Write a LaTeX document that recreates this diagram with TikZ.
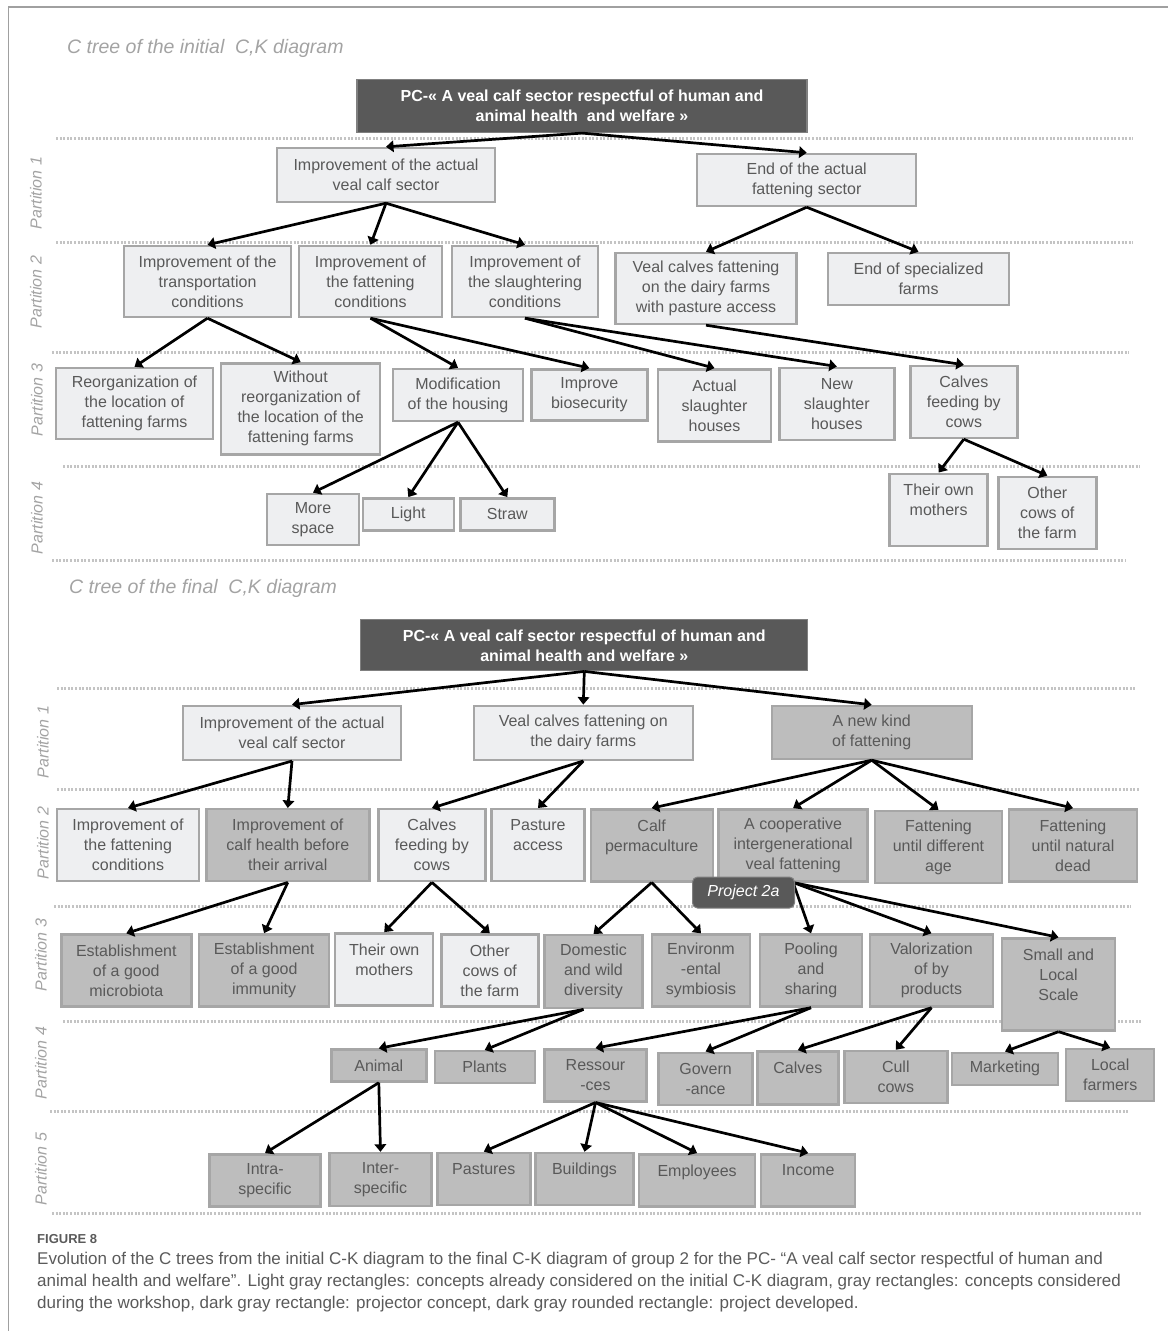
\documentclass[tikz,border=0pt]{standalone}
\usepackage{fontspec}
\setmainfont{Liberation Sans}
\newfontfamily\capfont{Liberation Sans}
\usetikzlibrary{arrows.meta}
\definecolor{lightfill}{HTML}{EEEFF1}
\definecolor{grayfill}{HTML}{BDBDBD}
\definecolor{bordc}{HTML}{A6A6A6}
\definecolor{darkfill}{HTML}{595959}
\definecolor{pcborder}{HTML}{808080}
\definecolor{txtc}{HTML}{595959}
\definecolor{labc}{HTML}{A3A3A3}
\definecolor{dotc}{HTML}{C4C4C4}
\definecolor{framec}{HTML}{A0A0A0}
\definecolor{capc}{HTML}{5A5A5A}
\tikzset{
 box/.style={draw=bordc, line width=2.4pt, inner sep=0pt, align=center, text=txtc, font=\fontsize{16}{20}\selectfont},
 lbox/.style={box, fill=lightfill},
 gbox/.style={box, fill=grayfill},
 pcbox/.style={draw=pcborder, line width=1.2pt, fill=darkfill, inner sep=0pt, align=center, text=white, font=\bfseries\fontsize{16}{20}\selectfont},
 projbox/.style={draw=pcborder, line width=1pt, fill=darkfill, inner sep=0pt, rounded corners=5pt, text=white, font=\itshape\fontsize{16}{20}\selectfont},
 arr/.style={-{Triangle[length=7.5pt,width=11.5pt]}, line width=2.7pt, black},
 part/.style={font=\itshape\fontsize{16}{20}\selectfont, text=labc, rotate=90},
 sep/.style={draw=dotc, line width=3pt, dash pattern=on 2pt off 1.6pt},
 ttl/.style={font=\itshape\fontsize{19.5}{23}\selectfont, text=labc, anchor=west, inner sep=0pt},
 capfig/.style={font=\bfseries\fontsize{13}{15}\selectfont, text=capc, anchor=base west, inner sep=0pt},
 capline/.style={font=\capfont\fontsize{17}{20}\selectfont, text=capc, anchor=base west, inner sep=0pt}
}
\begin{document}
\begin{tikzpicture}[x=1pt,y=-1pt]
\useasboundingbox (0,0) rectangle (1168,1331);
% frame
\draw[framec, line width=1.5pt] (8.5,1331) -- (8.5,7) -- (1168,7);
% separators, top
\draw[sep] (56,138) -- (1133,138);
\draw[sep] (56,242) -- (1133,242);
\draw[sep] (52,352.7) -- (1129,352.7);
\draw[sep] (63,466.7) -- (1140,466.7);
\draw[sep] (52,560) -- (1126,560);
% separators, bottom
\draw[sep] (57,688.3) -- (1135,688.3);
\draw[sep] (57,789.3) -- (1139,789.3);
\draw[sep] (54,906.7) -- (1131,906.7);
\draw[sep] (63,1021.7) -- (1142,1021.7);
\draw[sep] (50,1111.7) -- (1129,1111.7);
\draw[sep] (52,1213.3) -- (1141,1213.3);
% titles and partition labels
\node[ttl] (t1) at (67,48) {C tree of the initial\ \ C,K diagram};
\node[ttl] (t2) at (69,588) {C tree of the final\ \ C,K diagram};
\node[part] (pa1) at (36,193) {Partition 1};
\node[part] (pa2) at (36,292) {Partition 2};
\node[part] (pa3) at (37,400) {Partition 3};
\node[part] (pa4) at (37,518) {Partition 4};
\node[part] (pb1) at (43,742) {Partition 1};
\node[part] (pb2) at (43,843) {Partition 2};
\node[part] (pb3) at (41,955) {Partition 3};
\node[part] (pb4) at (41,1063) {Partition 4};
\node[part] (pb5) at (41,1169) {Partition 5};
% ---------- initial tree ----------
\node[pcbox, minimum width=450, minimum height=53] (pcA) at (582,106) {PC-« A veal calf sector respectful of human and\\animal health\ \ and welfare »};
\node[lbox, minimum width=218, minimum height=54] (impA) at (386,175) {Improvement of the actual\\veal calf sector};
\node[lbox, minimum width=219, minimum height=52] (endA) at (806.7,180) {End of the actual\\fattening sector};
\node[lbox, minimum width=167, minimum height=71] (trans) at (207.5,281.5) {Improvement of the\\transportation\\conditions};
\node[lbox, minimum width=143, minimum height=71] (fatt) at (370.5,281.5) {Improvement of\\the fattening\\conditions};
\node[lbox, minimum width=146, minimum height=71] (slau) at (525,281.5) {Improvement of\\the slaughtering\\conditions};
\node[lbox, minimum width=181, minimum height=71] (vealA) at (706,288.5) {Veal calves fattening\\on the dairy farms\\with pasture access};
\node[lbox, minimum width=181, minimum height=52] (endspec) at (918.5,279) {End of specialized\\farms};
\node[lbox, minimum width=157, minimum height=71] (reorg) at (134.5,403.5) {Reorganization of\\the location of\\fattening farms};
\node[lbox, minimum width=159, minimum height=91] (without) at (300.7,408.8) {Without\\reorganization of\\the location of the\\fattening farms};
\node[lbox, minimum width=130, minimum height=52] (modif) at (458,395) {Modification\\of the housing};
\node[lbox, minimum width=116, minimum height=51] (biosec) at (589.3,394.8) {Improve\\biosecurity};
\node[lbox, minimum width=113, minimum height=72] (actual) at (714.5,405.3) {Actual\\slaughter\\houses};
\node[lbox, minimum width=115, minimum height=72] (newsl) at (836.8,403.7) {New\\slaughter\\houses};
\node[lbox, minimum width=107, minimum height=72] (cfA) at (963.8,402) {Calves\\feeding by\\cows};
\node[lbox, minimum width=92, minimum height=51] (space) at (313,519.3) {More\\space};
\node[lbox, minimum width=91, minimum height=32] (light) at (408.3,514.3) {Light};
\node[lbox, minimum width=94, minimum height=32] (straw) at (507.3,514.3) {Straw};
\node[lbox, minimum width=98, minimum height=72] (omA) at (938.6,509.7) {Their own\\mothers\\\mbox{}};
\node[lbox, minimum width=98, minimum height=72] (ocA) at (1047.3,512.8) {Other\\cows of\\the farm};
% arrows, initial tree
\draw[arr] (pcA.south) -- (impA.north);
\draw[arr] (pcA.south) -- (endA.north);
\draw[arr] (impA.south) -- (trans.north);
\draw[arr] (impA.south) -- (fatt.north);
\draw[arr] (impA.south) -- (slau.north);
\draw[arr] (endA.south) -- (vealA.north);
\draw[arr] (endA.south) -- (endspec.north);
\draw[arr] (trans.south) -- (reorg.north);
\draw[arr] (trans.south) -- (without.north);
\draw[arr] (fatt.south) -- (modif.north);
\draw[arr] (fatt.south) -- (biosec.north);
\draw[arr] (slau.south) -- (actual.north);
\draw[arr] (slau.south) -- (newsl.north);
\draw[arr] (vealA.south) -- (cfA.north);
\draw[arr] (modif.south) -- (space.north);
\draw[arr] (modif.south) -- (light.north);
\draw[arr] (modif.south) -- (straw.north);
\draw[arr] (cfA.south) -- (omA.north);
\draw[arr] (cfA.south) -- (ocA.north);
% ---------- final tree ----------
\node[pcbox, minimum width=447, minimum height=51] (pcB) at (584.3,645.3) {PC-« A veal calf sector respectful of human and\\animal health and welfare »};
\node[lbox, minimum width=218, minimum height=54] (impB) at (292,732.8) {Improvement of the actual\\veal calf sector};
\node[lbox, minimum width=219, minimum height=54] (vealB) at (583.3,732.8) {Veal calves fattening on\\the dairy farms};
\node[gbox, minimum width=200, minimum height=53] (newkind) at (871.7,732.5) {A new kind\\of fattening};
\node[lbox, minimum width=142, minimum height=72] (fattcond) at (128,845.2) {Improvement of\\the fattening\\conditions};
\node[gbox, minimum width=163, minimum height=72] (health) at (287.8,845.2) {Improvement of\\calf health before\\their arrival};
\node[lbox, minimum width=107, minimum height=72] (cfB) at (431.9,845.2) {Calves\\feeding by\\cows};
\node[lbox, minimum width=93, minimum height=72] (pasture) at (538,845.2) {Pasture\\access\\\mbox{}};
\node[gbox, minimum width=122, minimum height=72] (perm) at (651.7,845.3) {Calf\\permaculture\\\mbox{}};
\node[gbox, minimum width=149, minimum height=72] (coop) at (793.1,845.3) {A cooperative\\intergenerational\\veal fattening};
\node[gbox, minimum width=127, minimum height=72] (diffage) at (938.5,847) {Fattening\\until different\\age};
\node[gbox, minimum width=128, minimum height=72] (natdead) at (1073,845.3) {Fattening\\until natural\\dead};
\node[gbox, minimum width=130, minimum height=72] (microb) at (126.3,970.5) {Establishment\\of a good\\microbiota};
\node[gbox, minimum width=130, minimum height=72] (immun) at (264.1,970.3) {Establishment\\of a good\\immunity};
\node[lbox, minimum width=98, minimum height=72] (omB) at (384.2,969.3) {Their own\\mothers\\\mbox{}};
\node[lbox, minimum width=97, minimum height=72] (ocB) at (489.8,970.3) {Other\\cows of\\the farm};
\node[gbox, minimum width=98, minimum height=73] (domestic) at (593.5,971.7) {Domestic\\and wild\\diversity};
\node[gbox, minimum width=98, minimum height=72] (environ) at (701,970.5) {Environm\\-ental\\symbiosis};
\node[gbox, minimum width=102, minimum height=72] (pooling) at (811,970.5) {Pooling\\and\\sharing};
\node[gbox, minimum width=123, minimum height=72] (valor) at (931.5,970.5) {Valorization\\of by\\products};
\node[gbox, minimum width=113, minimum height=92] (small) at (1058.5,984.5) {Small and\\Local\\Scale\\\mbox{}};
\node[gbox, minimum width=95, minimum height=32] (animal) at (378.8,1065.5) {Animal};
\node[gbox, minimum width=100, minimum height=32] (plants) at (484.7,1067.2) {Plants};
\node[gbox, minimum width=102, minimum height=52] (ressour) at (595.5,1075.3) {Ressour\\-ces};
\node[gbox, minimum width=94, minimum height=52] (govern) at (705.6,1078.7) {Govern\\-ance};
\node[gbox, minimum width=81, minimum height=53] (calves) at (797.8,1077.8) {Calves\\\mbox{}};
\node[gbox, minimum width=103, minimum height=52] (cull) at (895.8,1077) {Cull\\cows};
\node[gbox, minimum width=106, minimum height=32] (market) at (1005,1068.7) {Marketing};
\node[gbox, minimum width=88, minimum height=52] (localf) at (1110.2,1075) {Local\\farmers};
\node[gbox, minimum width=111, minimum height=52] (intra) at (265,1180.3) {Intra-\\specific};
\node[gbox, minimum width=102, minimum height=53] (inter) at (380.5,1179.5) {Inter-\\specific};
\node[gbox, minimum width=93, minimum height=52] (pastures) at (483.8,1178.8) {Pastures\\\mbox{}};
\node[gbox, minimum width=98, minimum height=52] (buildings) at (584.5,1179) {Buildings\\\mbox{}};
\node[gbox, minimum width=116, minimum height=52] (employees) at (697.1,1180.3) {Employees\\\mbox{}};
\node[gbox, minimum width=94, minimum height=52] (income) at (808.2,1180.3) {Income\\\mbox{}};
% arrows, final tree
\draw[arr] (pcB.south) -- (impB.north);
\draw[arr] (pcB.south) -- (vealB.north);
\draw[arr] (pcB.south) -- (newkind.north);
\draw[arr] (impB.south) -- (fattcond.north);
\draw[arr] (impB.south) -- (health.north);
\draw[arr] (vealB.south) -- (cfB.north);
\draw[arr] (vealB.south) -- (pasture.north);
\draw[arr] (newkind.south) -- (perm.north);
\draw[arr] (newkind.south) -- (coop.north);
\draw[arr] (newkind.south) -- (diffage.north);
\draw[arr] (newkind.south) -- (natdead.north);
\draw[arr] (health.south) -- (microb.north);
\draw[arr] (health.south) -- (immun.north);
\draw[arr] (cfB.south) -- (omB.north);
\draw[arr] (cfB.south) -- (ocB.north);
\draw[arr] (perm.south) -- (domestic.north);
\draw[arr] (perm.south) -- (environ.north);
\draw[arr] (coop.south) -- (pooling.north);
\draw[arr] (coop.south) -- (valor.north);
\draw[arr] (coop.south) -- (small.north);
\draw[arr] ([xshift=-10pt]domestic.south) -- (animal.north);
\draw[arr] ([xshift=-10pt]domestic.south) -- (plants.north);
\draw[arr] (pooling.south) -- (ressour.north);
\draw[arr] (pooling.south) -- (govern.north);
\draw[arr] (valor.south) -- (calves.north);
\draw[arr] (valor.south) -- (cull.north);
\draw[arr] (small.south) -- (market.north);
\draw[arr] (small.south) -- (localf.north);
\draw[arr] (animal.south) -- (intra.north);
\draw[arr] (animal.south) -- (inter.north);
\draw[arr] (ressour.south) -- (pastures.north);
\draw[arr] (ressour.south) -- (buildings.north);
\draw[arr] (ressour.south) -- (employees.north);
\draw[arr] (ressour.south) -- (income.north);
\node[projbox, minimum width=102, minimum height=31] (proj) at (743.5,892.5) {Project 2a};
% caption
\node[capfig] (fig) at (37,1243) {FIGURE 8};
\node[capline] (cap1) at (37,1264) {Evolution of the C trees from the initial C-K diagram to the final C-K diagram of group 2 for the PC- “A veal calf sector respectful of human and};
\node[capline] (cap2) at (37,1286) {animal health and welfare”. Light gray rectangles: concepts already considered on the initial C-K diagram, gray rectangles: concepts considered};
\node[capline] (cap3) at (37,1308) {during the workshop, dark gray rectangle: projector concept, dark gray rounded rectangle: project developed.};
\end{tikzpicture}
\end{document}
